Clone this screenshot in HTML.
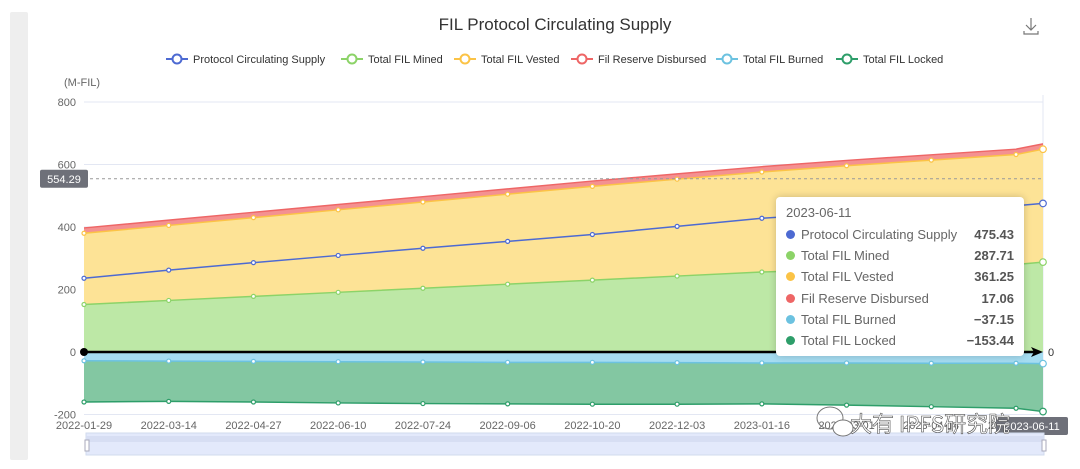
<!DOCTYPE html>
<html><head><meta charset="utf-8">
<style>
body{margin:0;width:1080px;height:469px;background:#fff;overflow:hidden;font-family:"Liberation Sans","Noto Sans CJK SC",sans-serif;position:relative}
.sidebar{position:absolute;left:10px;top:12px;width:18px;height:448px;background:#eeeeee;border-radius:2px}
.tooltip{position:absolute;left:776px;top:197px;width:248px;height:159px;background:#fff;border-radius:4px;box-shadow:0 0 8px rgba(0,0,0,0.2);font-size:13px;color:#666}
.tooltip .row{position:absolute;left:10px;right:10px;height:20px;line-height:20px}
.tooltip .dot{display:inline-block;width:9px;height:9px;border-radius:50%;margin-right:6px;vertical-align:0}
.tooltip .v{position:absolute;right:0;top:0;color:#555;font-weight:bold}
</style></head><body>
<div class="sidebar"></div>
<svg id="chart" width="1080" height="469" style="position:absolute;left:0;top:0"></svg>
<div class="tooltip">
 <div class="row" style="top:6px;font-size:13px">2023-06-11</div>
 <div class="row" style="top:28px"><span class="dot" style="background:#4d6ad2"></span>Protocol Circulating Supply<span class="v">475.43</span></div>
 <div class="row" style="top:49px"><span class="dot" style="background:#8cd368"></span>Total FIL Mined<span class="v">287.71</span></div>
 <div class="row" style="top:70px"><span class="dot" style="background:#fbc346"></span>Total FIL Vested<span class="v">361.25</span></div>
 <div class="row" style="top:92px"><span class="dot" style="background:#ee6666"></span>Fil Reserve Disbursed<span class="v">17.06</span></div>
 <div class="row" style="top:113px"><span class="dot" style="background:#6cc2e0"></span>Total FIL Burned<span class="v">−37.15</span></div>
 <div class="row" style="top:134px"><span class="dot" style="background:#2e9e6a"></span>Total FIL Locked<span class="v">−153.44</span></div>
</div>
<script>
const categories=["2022-01-29","2022-03-14","2022-04-27","2022-06-10","2022-07-24","2022-09-06","2022-10-20","2022-12-03","2023-01-16","2023-03-01","2023-04-14","2023-05-28","2023-06-11"];
const dayOffsets=[0,44,88,132,176,220,264,308,352,396,440,484,498];
const circulating=[236,262,286,309,332,354,376,402,428,445,458,468,475.43];
const mined=[152,165,178,191,204,217,230,243,256,264,272,280,287.71];
const vested=[228,240,252,264,276,288,300,310,320,332,342,352,361.25];
const reserve=[17,17,17,17,17,17,17,17,17,17,17,17,17.06];
const burned=[-28,-29,-30,-31,-32,-33,-33,-34,-35,-35,-36,-36,-37.15];
const locked=[-132,-129,-130,-132,-133,-133,-134,-133,-131,-135,-139,-144,-153.44];
const yTicks=[800,600,400,200,0,-200];
const xTickLabels=["2022-01-29","2022-03-14","2022-04-27","2022-06-10","2022-07-24","2022-09-06","2022-10-20","2022-12-03","2023-01-16","2023-03-01","2023-04-14","2023-05-28","2023-06-11"];
const markLineValue=554.29;

const svg=document.getElementById('chart');
const NS='http://www.w3.org/2000/svg';
const X0=84,X1=1043,Y0=352,YS=250/800,MAXD=498;
const x=d=>X0+d/MAXD*(X1-X0);
const y=v=>Y0-v*YS;
function el(tag,attrs,parent){const e=document.createElementNS(NS,tag);for(const k in attrs)e.setAttribute(k,attrs[k]);(parent||svg).appendChild(e);return e;}
function txt(s,attrs){const t=el('text',attrs);t.textContent=s;return t;}

let t=txt('FIL Protocol Circulating Supply',{x:555,y:30,'text-anchor':'middle','font-size':17,fill:'#333'});


let dl=el('path',{d:'M1031 18v12M1026 25l5 5 5-5M1024 31v3h14v-3',stroke:'#777',fill:'none','stroke-width':1.2});



const legend=[["Protocol Circulating Supply","#4d6ad2",166],["Total FIL Mined","#8cd368",341],["Total FIL Vested","#fbc346",454],["Fil Reserve Disbursed","#ee6666",571],["Total FIL Burned","#6cc2e0",716],["Total FIL Locked","#2e9e6a",836]];
legend.forEach(([n,c,lx])=>{
 const g=el('g',{});
 
 
 el('line',{x1:lx,y1:59,x2:lx+22,y2:59,stroke:c,'stroke-width':2},g);
 el('circle',{cx:lx+11,cy:59,r:4.5,fill:'#fff',stroke:c,'stroke-width':2},g);
 const tt=el('text',{x:lx+27,y:63,'font-size':11,fill:'#333'},g);tt.textContent=n;
});

let ut=txt('(M-FIL)',{x:64,y:86,'font-size':11,fill:'#666'});



yTicks.forEach(v=>{
 const l=el('line',{x1:X0,x2:X1,y1:y(v),y2:y(v),stroke:'#e3e7f3','stroke-width':1});
 
 
 const tl=txt(String(v),{x:76,y:y(v)+4,'text-anchor':'end','font-size':11,fill:'#666'});
 
 
});
el('line',{x1:X1,x2:X1,y1:95,y2:420,stroke:'#e3e7f3'});

const n=categories.length;
const s1=mined.map((v,i)=>v);
const s2=mined.map((v,i)=>v+vested[i]);
const s3=s2.map((v,i)=>v+reserve[i]);
const n1=burned.slice();
const n2=burned.map((v,i)=>v+locked[i]);
function area(top,bot,fill,name){
 let d='M'+top.map((v,i)=>x(dayOffsets[i])+' '+y(v)).join('L');
 for(let i=n-1;i>=0;i--)d+='L'+x(dayOffsets[i])+' '+y(bot[i]);
 const p=el('path',{d:d+'Z',fill:fill});
 
 
}
const zeros=new Array(n).fill(0);
area(s1,zeros,'#bde8a6','area-mined');
area(s2,s1,'#fde396','area-vested');
area(s3,s2,'#f49191','area-reserve');
area(n1,zeros,'#a5dcf1','area-burned');
area(n2,n1,'#83c7a2','area-locked');
function line(vals,c,name,markers){
 const p=el('path',{d:'M'+vals.map((v,i)=>x(dayOffsets[i])+' '+y(v)).join('L'),stroke:c,'stroke-width':1.5,fill:'none'});
 
 
 if(!markers)return;
 vals.forEach((v,i)=>{
  const last=i===n-1;
  const cc=el('circle',{cx:x(dayOffsets[i]),cy:y(v),r:last?3.3:2,fill:'#fff',stroke:c,'stroke-width':1.2});
  
  
 });
}
line(s3,'#ee6666','line-reserve',false);
line(s2,'#fbc346','line-vested',true);
line(s1,'#8cd368','line-mined',true);
line(n1,'#6cc2e0','line-burned',true);
line(n2,'#2e9e6a','line-locked',true);
line(circulating,'#4d6ad2','line-circulating',true);

el('line',{x1:X0,x2:X1-8,y1:Y0,y2:Y0,stroke:'#000','stroke-width':2.5});
el('path',{d:`M${X1-12} ${Y0-5}L${X1} ${Y0}L${X1-12} ${Y0+5}L${X1-9} ${Y0}Z`,fill:'#000'});
el('circle',{cx:X0,cy:Y0,r:4,fill:'#000'});
txt('0',{x:1048,y:Y0+4,'font-size':11,fill:'#333'});

const ml=el('line',{x1:X0,x2:X1,y1:y(markLineValue),y2:y(markLineValue),stroke:'#999','stroke-dasharray':'3 3','stroke-width':1});


el('rect',{x:40,y:y(markLineValue)-9,width:48,height:18,rx:2,fill:'#6e7079'});
txt(markLineValue.toFixed(2),{x:64,y:y(markLineValue)+4,'text-anchor':'middle','font-size':11,fill:'#fff'});

xTickLabels.forEach((s,i)=>{
 if(i===n-1)return;
 const tl=txt(s,{x:x(dayOffsets[i]),y:429,'text-anchor':'middle','font-size':11,fill:'#666'});
 
 
});
el('rect',{x:996,y:417,width:72,height:18,rx:2,fill:'#6e7079'});
txt(xTickLabels[n-1],{x:1032,y:430,'text-anchor':'middle','font-size':11,fill:'#fff'});

const dz=el('rect',{x:86,y:433,width:958,height:22,fill:'#e3e9fb',stroke:'#d2dbee'});


el('rect',{x:86,y:436,width:958,height:6,fill:'#d7def3'});
el('rect',{x:85,y:440,width:4,height:11,fill:'#fff',stroke:'#aab'});
el('rect',{x:1042,y:440,width:4,height:11,fill:'#fff',stroke:'#aab'});

const wm=txt('大有 IPFS研究院',{x:850,y:432,'font-size':22,fill:'#fff',stroke:'#555','stroke-width':0.6,'font-family':'Noto Sans CJK SC, sans-serif'});


el('ellipse',{cx:830,cy:418,rx:13,ry:11,fill:'none',stroke:'#777'});
el('ellipse',{cx:843,cy:428,rx:10,ry:8,fill:'#fff',stroke:'#777'});
</script>
</body></html>
